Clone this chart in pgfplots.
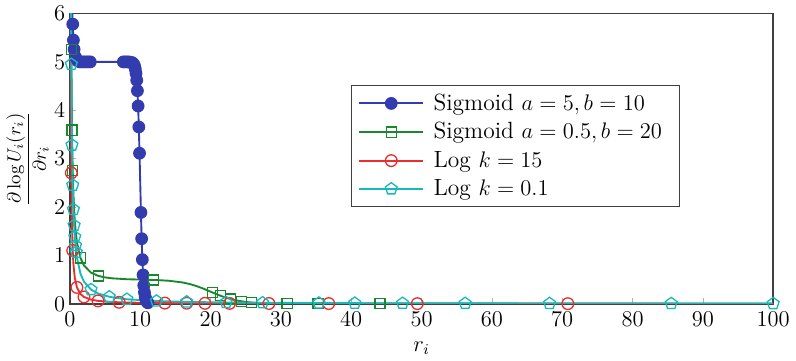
\documentclass[border=0pt]{standalone}
\usepackage{pgfplots}
\pgfplotsset{compat=1.18}

\definecolor{sigA}{RGB}{50,60,175}
\definecolor{sigB}{RGB}{25,135,45}
\definecolor{logA}{RGB}{235,45,45}
\definecolor{logB}{RGB}{25,185,185}

% curves of d log U / d r
\pgfplotstableread{
r y
0.3 6.44
0.35 6.05
0.4 5.78
0.5 5.45
0.6 5.26
0.7 5.16
0.8 5.10
0.9 5.06
1.0 5.03
1.2 5.01
1.5 5.00
3 5.00
8 5.00
8.5 4.997
8.8 4.988
9.0 4.967
9.1 4.945
9.2 4.910
9.3 4.853
9.4 4.763
9.5 4.621
9.6 4.404
9.7 4.088
9.8 3.655
9.9 3.112
10.0 2.500
10.1 1.888
10.2 1.345
10.3 0.912
10.4 0.596
10.5 0.379
10.6 0.237
10.7 0.146
10.8 0.090
10.9 0.055
11.0 0.033
11.2 0.012
11.5 0.003
12 0
100 0
}\sigAline
\pgfplotstableread{
r y
0.4 5.78
0.5 5.45
0.6 5.26
0.8 5.10
1.1 5.02
1.4 5.00
1.7 5.00
2.0 5.00
2.3 5.00
2.6 5.00
2.9 5.00
7.6 5.00
7.9 5.00
8.2 5.00
8.5 4.997
8.8 4.988
9.0 4.967
9.1 4.945
9.2 4.910
9.3 4.853
9.4 4.763
9.5 4.621
9.6 4.404
9.7 4.088
9.8 3.655
9.9 3.112
10.1 1.888
10.2 1.345
10.3 0.912
10.4 0.596
10.5 0.379
10.6 0.237
10.7 0.146
10.8 0.090
10.9 0.055
11.0 0.033
11.1 0.020
}\sigAmarks

\pgfplotstableread{
r y
0.15 6.92
0.2 5.26
0.3 3.59
0.4 2.76
0.5 2.26
0.7 1.69
1.0 1.271
1.5 0.948
2 0.791
3 0.644
4 0.578
5 0.545
6 0.526
8 0.508
10 0.500
12 0.492
14 0.477
16 0.441
17 0.409
18 0.366
19 0.312
20 0.250
21 0.189
22 0.134
23 0.091
24 0.060
25 0.038
26 0.024
28 0.009
30 0.003
33 0.0008
36 0
100 0
}\sigBline
\pgfplotstableread{
r y
0.2 5.26
0.3 3.59
0.4 2.76
1.5 0.948
4.1 0.574
11.9 0.493
20.3 0.231
21.4 0.166
22.8 0.099
24.4 0.050
25.8 0.026
30.9 0.002
35.3 0
44.1 0
}\sigBmarks

\pgfplotstableread{
r y
0.1 6.55
0.12 5.20
0.15 3.916
0.2 2.705
0.25 2.027
0.3 1.600
0.4 1.101
0.5 0.825
0.7 0.534
1.0 0.338
1.5 0.202
2 0.141
3 0.0852
4 0.0598
6 0.0365
8 0.0258
12 0.0159
20 0.0087
30 0.0054
50 0.0030
70 0.00205
100 0.0014
}\logAline
\pgfplotstableread{
r y
0.2 2.705
0.4 1.101
1.0 0.338
2.0 0.141
4.0 0.060
7.0 0.030
13.5 0.0139
16.6 0.0110
19.2 0.0090
22.7 0.0075
28.3 0.0057
36.8 0.0042
49.4 0.0030
70.8 0.0020
}\logAmarks

\pgfplotstableread{
r y
0.15 6.62
0.2 4.95
0.3 3.28
0.4 2.45
0.5 1.95
0.6 1.62
0.7 1.381
0.8 1.203
0.9 1.065
1.0 0.954
1.5 0.622
2 0.457
3 0.293
4 0.212
5.7 0.141
8 0.0945
12.3 0.0559
16.6 0.0384
22.2 0.0266
27.4 0.0203
35.4 0.0146
40.5 0.0122
47.3 0.0100
56.2 0.0080
68.2 0.0062
85.5 0.0046
100 0.0038
}\logBline
\pgfplotstableread{
r y
0.2 4.95
0.3 3.28
0.4 2.45
0.5 1.95
0.6 1.62
0.7 1.381
0.8 1.203
0.9 1.065
3.0 0.293
5.6 0.143
8.1 0.093
12.3 0.0559
16.6 0.0384
22.2 0.0266
27.4 0.0203
35.4 0.0146
40.5 0.0122
47.3 0.0100
56.2 0.0080
68.2 0.0062
85.5 0.0046
100 0.0038
}\logBmarks

\begin{document}
\begin{tikzpicture}
\begin{axis}[
  scale only axis,
  width=374.6pt, height=154.6pt,
  xmin=0, xmax=100, ymin=0, ymax=6,
  xtick={0,10,...,100}, ytick={0,1,...,6},
  tick align=inside, xtick pos=left, ytick pos=left,
  major tick length=3pt,
  tick style={black!30},
  tick label style={font=\fontsize{11.5}{13}\selectfont},
  xticklabel style={yshift=-1pt},
  yticklabel style={xshift=1pt},
  axis line style={black!75, line width=0.8pt},
  xlabel={$r_i$},
  xlabel style={font=\fontsize{11.5}{13}\selectfont, yshift=-1pt},
  ylabel={$\displaystyle\frac{\partial \log U_i(r_i)}{\partial r_i}$},
  ylabel shift=-4pt,
  legend style={at={(rel axis cs:0.399,0.754)}, anchor=north west,
    draw=black!75, inner xsep=4pt, inner ysep=2.5pt,
    font=\fontsize{12.5}{14}\selectfont, row sep=1pt,
    nodes={inner xsep=5pt}},
  legend cell align=left,
  legend image code/.code={%
    \draw[mark repeat=2, mark phase=2, line width=1pt]
      plot coordinates {(0pt,0pt) (17pt,0pt) (34pt,0pt)};},
  every axis plot/.append style={line width=1pt},
]
% Sigmoid a=5, b=10
\addplot[sigA, forget plot] table {\sigAline};
\addplot[sigA, only marks, mark=*, mark size=3.1pt, mark options={fill=sigA, line width=0.6pt}, forget plot] table {\sigAmarks};
\addlegendimage{sigA, mark=*, mark size=3.1pt, mark options={fill=sigA, line width=0.6pt}}
\addlegendentry{Sigmoid $a=5, b=10$}
% Sigmoid a=0.5, b=20
\addplot[sigB, forget plot] table {\sigBline};
\addplot[sigB, only marks, mark=square, mark size=2.7pt, mark options={fill=white, line width=0.7pt}, forget plot] table {\sigBmarks};
\addlegendimage{sigB, mark=square, mark size=2.7pt, mark options={fill=white, line width=0.7pt}}
\addlegendentry{Sigmoid $a=0.5, b=20$}
% Log k=15
\addplot[logA, forget plot] table {\logAline};
\addplot[logA, only marks, mark=o, mark size=3.1pt, mark options={fill=white, line width=0.7pt}, forget plot] table {\logAmarks};
\addlegendimage{logA, mark=o, mark size=3.1pt, mark options={fill=white, line width=0.7pt}}
\addlegendentry{Log $k=15$}
% Log k=0.1
\addplot[logB, forget plot] table {\logBline};
\addplot[logB, only marks, mark=pentagon, mark size=3.3pt, mark options={fill=white, line width=0.7pt}, forget plot] table {\logBmarks};
\addlegendimage{logB, mark=pentagon, mark size=3.3pt, mark options={fill=white, line width=0.7pt}}
\addlegendentry{Log $k=0.1$}
\end{axis}
\end{tikzpicture}
\end{document}
